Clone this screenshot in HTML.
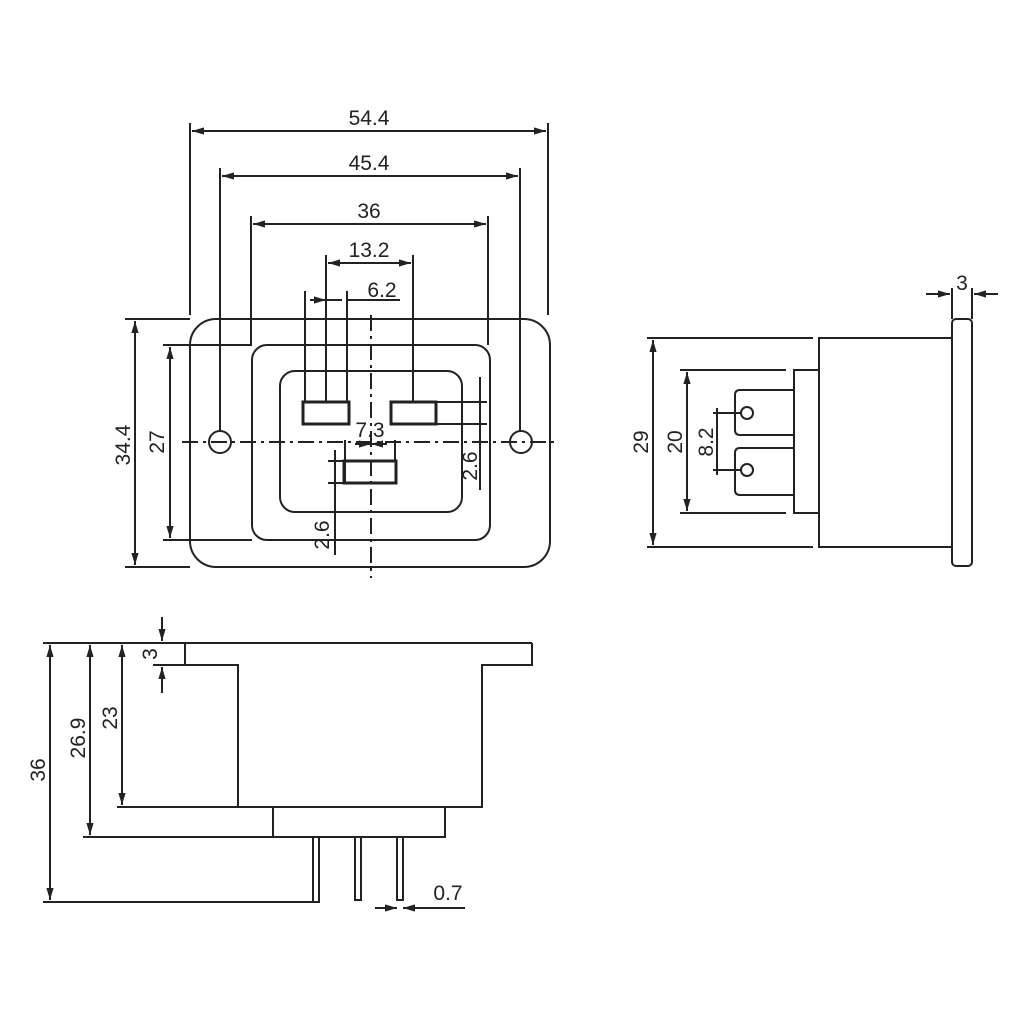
<!DOCTYPE html>
<html><head><meta charset="utf-8"><style>
html,body{margin:0;padding:0;background:#fff}
svg{display:block}
text{font-family:"Liberation Sans",Arial,sans-serif;font-size:21px;fill:#222}
</style></head><body>
<svg width="1024" height="1024" viewBox="0 0 1024 1024" xmlns="http://www.w3.org/2000/svg">
<defs>
<marker id="a" viewBox="0 0 10 10" refX="10" refY="5" markerWidth="8" markerHeight="6" orient="auto-start-reverse"><path d="M0,2 L10,5 L0,8 z" fill="#222"/></marker>
</defs>
<g stroke="#222" stroke-width="2" fill="none">
<rect x="190" y="319" width="360" height="248" rx="26"/>
<rect x="252" y="345" width="238" height="195" rx="15"/>
<rect x="280" y="371" width="182" height="141" rx="15"/>
<rect x="303" y="402" width="46" height="22" stroke-width="3"/>
<rect x="391" y="402" width="45" height="22" stroke-width="3"/>
<rect x="344" y="461" width="52" height="22" stroke-width="3"/>
<circle cx="220" cy="442" r="11"/><circle cx="521" cy="442" r="11"/>
<line x1="182" y1="442" x2="558" y2="442" stroke-dasharray="16,5,3,5"/>
<line x1="371" y1="315" x2="371" y2="578" stroke-dasharray="16,5,3,5"/>
<line x1="190" y1="123" x2="190" y2="315"/><line x1="548" y1="123" x2="548" y2="315"/>
<line x1="192" y1="131" x2="546" y2="131" marker-start="url(#a)" marker-end="url(#a)"/>
<line x1="220" y1="168" x2="220" y2="431"/><line x1="520" y1="168" x2="520" y2="431"/>
<line x1="222" y1="176" x2="518" y2="176" marker-start="url(#a)" marker-end="url(#a)"/>
<line x1="251" y1="216" x2="251" y2="345"/><line x1="488" y1="216" x2="488" y2="345"/>
<line x1="253" y1="224" x2="486" y2="224" marker-start="url(#a)" marker-end="url(#a)"/>
<line x1="326" y1="255" x2="326" y2="402"/><line x1="413" y1="255" x2="413" y2="402"/>
<line x1="328" y1="263" x2="411" y2="263" marker-start="url(#a)" marker-end="url(#a)"/>
<line x1="305" y1="291" x2="305" y2="402"/><line x1="347" y1="291" x2="347" y2="402"/>
<line x1="310" y1="300" x2="326" y2="300" marker-end="url(#a)"/>
<line x1="342" y1="300" x2="326" y2="300"/>
<line x1="347" y1="300" x2="400" y2="300"/>
<line x1="125" y1="319" x2="190" y2="319"/><line x1="125" y1="567" x2="190" y2="567"/>
<line x1="135" y1="321" x2="135" y2="565" marker-start="url(#a)" marker-end="url(#a)"/>
<line x1="163" y1="345" x2="252" y2="345"/><line x1="163" y1="540" x2="252" y2="540"/>
<line x1="170" y1="347" x2="170" y2="538" marker-start="url(#a)" marker-end="url(#a)"/>
<line x1="345" y1="440" x2="345" y2="483"/><line x1="395" y1="440" x2="395" y2="461"/>
<line x1="355" y1="444" x2="371" y2="444" marker-end="url(#a)"/>
<line x1="387" y1="444" x2="371" y2="444" marker-end="url(#a)"/>
<line x1="328" y1="461" x2="344" y2="461"/><line x1="328" y1="483" x2="344" y2="483"/>
<line x1="335" y1="450" x2="335" y2="555"/>
<line x1="436" y1="402" x2="487" y2="402"/><line x1="436" y1="424" x2="487" y2="424"/>
<line x1="480" y1="377" x2="480" y2="490"/>
<rect x="952" y="319" width="20" height="247" rx="4"/>
<rect x="819" y="338" width="133" height="209"/>
<rect x="794" y="370" width="25" height="143"/>
<path d="M794,390 H740 q-5,0 -5,5 V430 q0,5 5,5 H794"/>
<path d="M794,448 H740 q-5,0 -5,5 V490 q0,5 5,5 H794"/>
<circle cx="747" cy="413" r="6"/><circle cx="747" cy="470" r="6"/>
<line x1="647" y1="338" x2="813" y2="338"/><line x1="647" y1="547" x2="813" y2="547"/>
<line x1="653" y1="340" x2="653" y2="545" marker-start="url(#a)" marker-end="url(#a)"/>
<line x1="680" y1="370" x2="786" y2="370"/><line x1="680" y1="513" x2="786" y2="513"/>
<line x1="687" y1="372" x2="687" y2="511" marker-start="url(#a)" marker-end="url(#a)"/>
<line x1="713" y1="413" x2="741" y2="413"/><line x1="713" y1="470" x2="741" y2="470"/>
<line x1="717" y1="408" x2="717" y2="475"/>
<line x1="952" y1="288" x2="952" y2="319"/><line x1="972" y1="288" x2="972" y2="319"/>
<line x1="926" y1="294" x2="950" y2="294" marker-end="url(#a)"/>
<line x1="998" y1="294" x2="974" y2="294" marker-end="url(#a)"/>
<line x1="43" y1="643" x2="532" y2="643"/>
<path d="M532,643 V665 H482 V807 H117"/>
<path d="M153,665 H238 V807"/>
<line x1="185" y1="643" x2="185" y2="665"/>
<path d="M273,807 V837 H445 V807"/>
<line x1="83" y1="837" x2="306" y2="837"/>
<rect x="313" y="837" width="6" height="65"/>
<rect x="355" y="837" width="6" height="63"/>
<rect x="397" y="837" width="6" height="63"/>
<line x1="43" y1="902" x2="313" y2="902"/>
<line x1="50" y1="645" x2="50" y2="900" marker-start="url(#a)" marker-end="url(#a)"/>
<line x1="90" y1="645" x2="90" y2="835" marker-start="url(#a)" marker-end="url(#a)"/>
<line x1="122" y1="645" x2="122" y2="805" marker-start="url(#a)" marker-end="url(#a)"/>
<line x1="162" y1="617" x2="162" y2="641" marker-end="url(#a)"/>
<line x1="162" y1="693" x2="162" y2="667" marker-end="url(#a)"/>
<line x1="375" y1="908" x2="397" y2="908" marker-end="url(#a)"/>
<line x1="465" y1="908" x2="403" y2="908" marker-end="url(#a)"/>
</g>
<text x="369" y="125" text-anchor="middle">54.4</text>
<text x="369" y="170" text-anchor="middle">45.4</text>
<text x="369" y="218" text-anchor="middle">36</text>
<text x="369" y="257" text-anchor="middle">13.2</text>
<text x="382" y="297" text-anchor="middle">6.2</text>
<text x="370" y="437" text-anchor="middle">7.3</text>
<text transform="translate(130,445) rotate(-90)" text-anchor="middle">34.4</text>
<text transform="translate(164,442) rotate(-90)" text-anchor="middle">27</text>
<text transform="translate(329,535) rotate(-90)" text-anchor="middle">2.6</text>
<text transform="translate(477,466) rotate(-90)" text-anchor="middle">2.6</text>
<text x="962" y="290" text-anchor="middle">3</text>
<text transform="translate(648,442) rotate(-90)" text-anchor="middle">29</text>
<text transform="translate(682,442) rotate(-90)" text-anchor="middle">20</text>
<text transform="translate(713,442) rotate(-90)" text-anchor="middle">8.2</text>
<text transform="translate(45,770) rotate(-90)" text-anchor="middle">36</text>
<text transform="translate(85,738) rotate(-90)" text-anchor="middle">26.9</text>
<text transform="translate(117,718) rotate(-90)" text-anchor="middle">23</text>
<text transform="translate(157,654) rotate(-90)" text-anchor="middle">3</text>
<text x="448" y="900" text-anchor="middle">0.7</text>
</svg>
</body></html>
